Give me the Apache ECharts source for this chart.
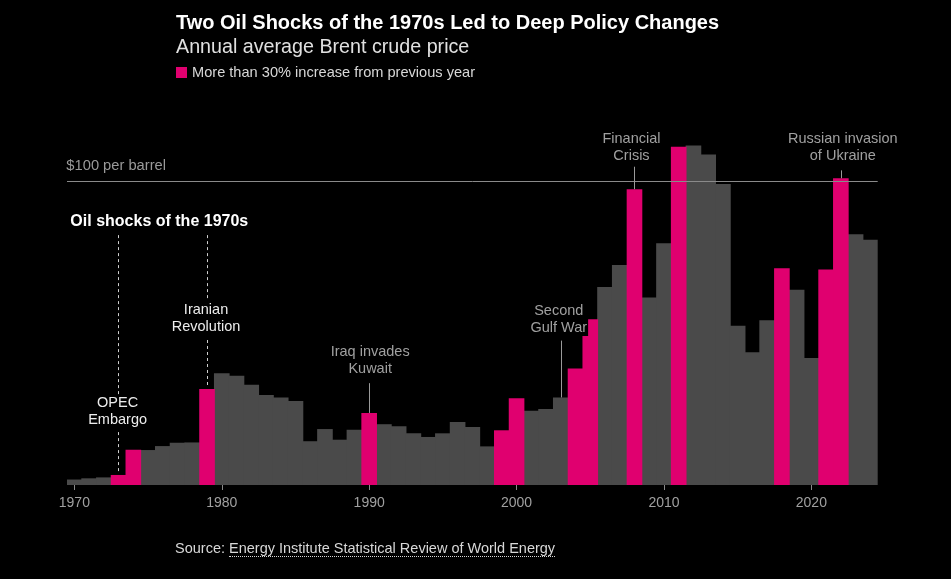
<!doctype html>
<html>
<head>
<meta charset="UTF-8">
<title>Brent crude price</title>
<style>
  html, body { margin: 0; padding: 0; background: #000; }
  #main { width: 951px; height: 579px; }
  #source {
    position: absolute; left: 175px; top: 540px;
    font-family: "Liberation Sans", Arial, sans-serif; font-size: 14.5px; color: #d8d8d8;
  }
  #source span { border-bottom: 1px dotted #d8d8d8; }
</style>
<script src="https://cdn.jsdelivr.net/npm/echarts@6/dist/echarts.min.js"></script>
</head>
<body>
<div id="main"></div>
<div id="source">Source: <span>Energy Institute Statistical Review of World Energy</span></div>
<script type="text/javascript">
var years = ['1970','1971','1972','1973','1974','1975','1976','1977','1978','1979',
             '1980','1981','1982','1983','1984','1985','1986','1987','1988','1989',
             '1990','1991','1992','1993','1994','1995','1996','1997','1998','1999',
             '2000','2001','2002','2003','2004','2005','2006','2007','2008','2009',
             '2010','2011','2012','2013','2014','2015','2016','2017','2018','2019',
             '2020','2021','2022','2023','2024'];
// annual average, $ per barrel
var prices = [1.8, 2.2, 2.5, 3.3, 11.6, 11.5, 12.8, 13.9, 14.0, 31.6,
              36.8, 35.9, 33.0, 29.6, 28.8, 27.6, 14.4, 18.4, 14.9, 18.2,
              23.7, 20.0, 19.3, 17.0, 15.8, 17.0, 20.7, 19.1, 12.7, 18.0,
              28.5, 24.4, 25.0, 28.8, 38.3, 54.5, 65.1, 72.4, 97.3, 61.7,
              79.5, 111.3, 111.7, 108.7, 99.0, 52.4, 43.7, 54.2, 71.3, 64.2,
              41.8, 70.9, 100.9, 82.5, 80.7];
var pinkYears = ['1973','1974','1979','1990','1999','2000','2004','2005','2008','2011','2018','2021','2022'];
var tickYears = ['1970','1980','1990','2000','2010','2020'];

var FONT = '"Liberation Sans", Arial, sans-serif';
var GRAY_TXT = '#a0a0a0';
var GRAY_BAR = '#4a4a4a';
var PINK = '#e0006f';

var grayData = [], pinkData = [];
for (var i = 0; i < years.length; i++) {
    var isPink = pinkYears.indexOf(years[i]) >= 0;
    grayData.push(isPink ? '-' : prices[i]);
    pinkData.push(isPink ? prices[i] : '-');
}
function priceOf(y) { return prices[years.indexOf(y)]; }

function note(year, val, text, color, extra) {
    var lbl = {
        show: true, position: 'inside', formatter: text, color: color,
        fontFamily: FONT, fontSize: 14.5, lineHeight: 17, align: 'center'
    };
    for (var k in extra) lbl[k] = extra[k];
    return { coord: [year, val], symbol: 'circle', symbolSize: 1,
             itemStyle: { color: 'rgba(0,0,0,0)' }, label: lbl };
}
function seg(year, from, to, dashed) {
    return [{ coord: [year, from] }, { coord: [year, to],
             lineStyle: { type: dashed ? [3, 3] : 'solid', color: dashed ? '#cfcfcf' : '#9a9a9a', width: 1 } }];
}

var myChart = echarts.init(document.getElementById('main'));

option = {
    backgroundColor: '#000',
    title: {
        left: 171, top: 8,
        text: 'Two Oil Shocks of the 1970s Led to Deep Policy Changes',
        subtext: 'Annual average Brent crude price',
        itemGap: 5,
        textStyle: { color: '#fff', fontFamily: FONT, fontWeight: 'bold', fontSize: 20 },
        subtextStyle: { color: '#e0e0e0', fontFamily: FONT, fontSize: 19.7 }
    },
    legend: {
        left: 171, top: 60, icon: 'rect', itemWidth: 11, itemHeight: 11, itemGap: 6,
        data: ['More than 30% increase from previous year'],
        textStyle: { color: '#d8d8d8', fontFamily: FONT, fontSize: 14.6 }
    },
    grid: { left: 67, right: 73.3, top: 120.2, bottom: 94 },
    xAxis: {
        type: 'category', data: years, boundaryGap: true,
        axisLine: { show: false },
        axisTick: {
            show: true, alignWithLabel: true, length: 5,
            lineStyle: { color: '#8a8a8a' },
            interval: function (idx, val) { return tickYears.indexOf(val) >= 0; }
        },
        axisLabel: {
            color: GRAY_TXT, fontFamily: FONT, fontSize: 14, margin: 11,
            interval: function (idx, val) { return tickYears.indexOf(val) >= 0; }
        }
    },
    yAxis: { type: 'value', min: 0, max: 120, show: false, splitLine: { show: false } },
    series: [
        {
            name: 'ref', type: 'line', data: [], z: 1, showSymbol: false,
            markLine: {
                silent: true, symbol: 'none',
                lineStyle: { color: '#8a8a8a', type: 'solid', width: 1 },
                label: { show: false },
                data: [{ yAxis: 100 }]
            }
        },
        {
            name: 'Other years', type: 'bar', data: grayData, z: 2,
            barWidth: '106%', barGap: '-100%',
            itemStyle: { color: GRAY_BAR }
        },
        {
            name: 'More than 30% increase from previous year', type: 'bar', data: pinkData, z: 3,
            barWidth: '106%', barGap: '-100%',
            itemStyle: { color: PINK }
        },
        {
            name: 'notes', type: 'line', data: [], z: 5, showSymbol: false,
            markLine: {
                silent: true, symbol: 'none', label: { show: false },
                data: [
                    seg('1973', 82.2, 29.8, true),
                    seg('1973', 17.4, priceOf('1973') + 0.3, true),
                    seg('1979', 82.2, 60.9, true),
                    seg('1979', 47.7, priceOf('1979') + 0.3, true),
                    seg('1990', 33.5, priceOf('1990')),
                    seg('2003', 47.5, priceOf('2003')),
                    seg('2008', 104.7, priceOf('2008')),
                    seg('2022', 103.5, priceOf('2022'))
                ]
            },
            markPoint: {
                silent: true,
                data: [
                    note('1970', 104.9, '$100 per barrel', '#9a9a9a', { align: 'left', offset: [-8, 0], fontSize: 14.7 }),
                    note('1970', 86.5, 'Oil shocks of the 1970s', '#fff',
                         { align: 'left', offset: [-4, 0], fontWeight: 'bold', fontSize: 16 }),
                    note('1973', 24.2, 'OPEC\nEmbargo', '#ececec', { offset: [-1, 0] }),
                    note('1979', 54.9, 'Iranian\nRevolution', '#ececec', { offset: [-1, 0] }),
                    note('1990', 41.1, 'Iraq invades\nKuwait', GRAY_TXT, { offset: [1, 0] }),
                    note('2003', 54.6, 'Second\nGulf War', GRAY_TXT,
                         { offset: [-2, 0], backgroundColor: '#000', padding: [0, 1] }),
                    note('2008', 111.0, 'Financial\nCrisis', GRAY_TXT, { offset: [-3, 0] }),
                    note('2022', 110.9, 'Russian invasion\nof Ukraine', GRAY_TXT, { offset: [2, 0] })
                ]
            }
        }
    ]
};

myChart.setOption(option);
</script>
</body>
</html>
